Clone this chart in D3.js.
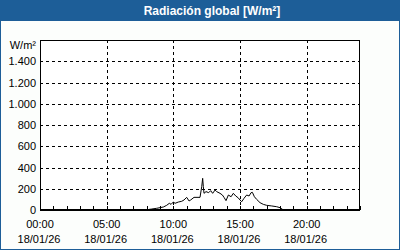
<!DOCTYPE html>
<html><head><meta charset="utf-8">
<script src="https://cdn.jsdelivr.net/npm/d3@7"></script>
<style>html,body{margin:0;padding:0;background:#fff;}svg{display:block;}</style>
</head><body>
<svg id="c" width="400" height="250"></svg>
<script>
const title = "Radiación global [W/m²]";
const unitLabel = "W/m²";
const yTicks = [0,200,400,600,800,1000,1200,1400];
const xTickHours = [0,5,10,15,20];
const xTickTimes = ["00:00","05:00","10:00","15:00","20:00"];
const xTickDate = "18/01/26";
// hour of day, W/m²
const hours = [0,1,2,3,4,5,6,7,8,8.37,8.75,9.25,9.5,9.7,9.83,10.0,10.13,10.38,10.63,10.8,11.0,11.18,11.3,11.55,12.0,12.13,12.2,12.25,12.3,12.45,12.65,12.8,12.95,13.13,13.25,13.5,13.68,13.8,13.95,14.13,14.33,14.5,14.68,14.88,15.0,15.13,15.3,15.5,15.68,15.83,15.93,16.08,16.25,16.5,16.75,17.0,17.38,17.75,18.0,18.2,18.5,19,20,21,22,23,24];
const values = [0,0,0,0,0,0,0,0,2,9,16,28,44,63,53,75,63,75,82,94,119,85,94,119,119,220,298,220,157,173,163,182,157,188,173,157,141,119,88,141,125,157,132,113,94,78,110,141,132,163,166,125,100,69,53,44,38,31,22,5,0,0,0,0,0,0,0];

const svg = d3.select("#c");
const W = 400, H = 250;
const L = 40, R = 360, T = 40, B = 210;

svg.append("rect").attr("x",0).attr("y",0).attr("width",W).attr("height",H).attr("fill","#fcfefc");
svg.append("rect").attr("x",0.5).attr("y",0.5).attr("width",W-1).attr("height",H-1).attr("fill","none").attr("stroke","#1d5e98");
svg.append("rect").attr("x",0).attr("y",0).attr("width",W).attr("height",21).attr("fill","#1d5e98");
svg.append("text").attr("x",212).attr("y",15).attr("text-anchor","middle")
  .attr("font-family","'Liberation Sans',Arial,sans-serif").attr("font-weight","bold").attr("font-size",12)
  .attr("fill","#fff").text(title);

const x = d3.scaleLinear().domain([0,24]).range([L,R]);
const y = d3.scaleLinear().domain([0,1600]).range([B,T]);

svg.append("rect").attr("x",L).attr("y",T).attr("width",R-L).attr("height",B-T).attr("fill","#fff");

const g = svg.append("g");
// horizontal grid
g.selectAll("line.hg").data(yTicks.filter(d=>d>0)).enter().append("line")
  .attr("x1",L).attr("x2",R).attr("y1",d=>Math.round(y(d))+0.5).attr("y2",d=>Math.round(y(d))+0.5)
  .attr("stroke","#000").attr("stroke-dasharray","3,3");
// vertical grid
g.selectAll("line.vg").data(xTickHours.filter(d=>d>0)).enter().append("line")
  .attr("y1",T).attr("y2",B).attr("x1",d=>Math.round(x(d))+0.5).attr("x2",d=>Math.round(x(d))+0.5)
  .attr("stroke","#000").attr("stroke-dasharray","3,3");

// data line
const line = d3.line().x((d,i)=>x(hours[i])).y(d=>y(d));
svg.append("path").datum(values).attr("d",line).attr("fill","none").attr("stroke","#000").attr("stroke-width",1);

// frame
svg.append("rect").attr("x",L+0.5).attr("y",T+0.5).attr("width",R-L-1).attr("height",B-T).attr("fill","none").attr("stroke","#000");
svg.append("line").attr("x1",L).attr("x2",R).attr("y1",B).attr("y2",B).attr("stroke","#000").attr("stroke-width",2);

// hourly minor ticks
svg.selectAll("line.mt").data(d3.range(0,25)).enter().append("line")
  .attr("x1",d=>Math.round(x(d))+0.5).attr("x2",d=>Math.round(x(d))+0.5)
  .attr("y1",B).attr("y2",B-4).attr("stroke","#000");

const font = "'Liberation Sans',Arial,sans-serif";
// y labels
svg.selectAll("text.yl").data(yTicks).enter().append("text")
  .attr("x",36).attr("y",d=>y(d)+4).attr("text-anchor","end")
  .attr("font-family",font).attr("font-size",11).attr("fill","#000")
  .text(d=>d3.format(",")(d).replace(/,/g,"."));
svg.append("text").attr("x",36).attr("y",49).attr("text-anchor","end")
  .attr("font-family",font).attr("font-size",11).attr("fill","#000").text(unitLabel);
// x labels
xTickHours.forEach((h,i)=>{
  svg.append("text").attr("x",x(h)).attr("y",228).attr("text-anchor","middle")
    .attr("font-family",font).attr("font-size",11).attr("fill","#000").text(xTickTimes[i]);
  svg.append("text").attr("x",x(h)-1).attr("y",243).attr("text-anchor","middle")
    .attr("font-family",font).attr("font-size",11).attr("fill","#000").text(xTickDate);
});
</script>
</body></html>
